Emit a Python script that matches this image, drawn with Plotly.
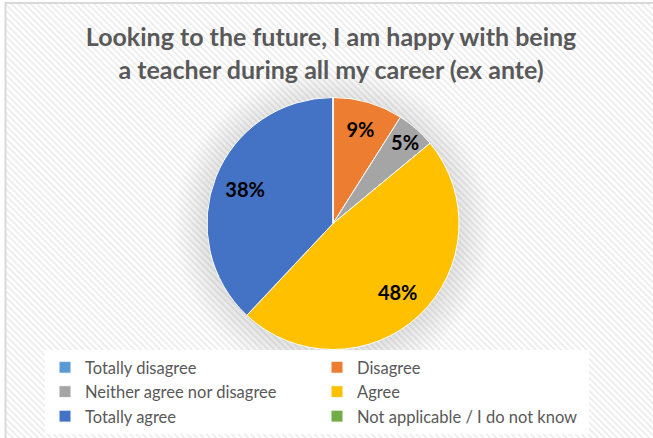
import base64
import plotly.graph_objects as go

# ---- data ----
categories = ["Totally disagree", "Disagree", "Neither agree nor disagree",
              "Agree", "Totally agree", "Not applicable / I do not know"]
shares = [0, 9, 5, 48, 38, 0]
colors = ["#5B9BD5", "#ED7D31", "#A5A5A5", "#FFC000", "#4472C4", "#70AD47"]
title_lines = ["Looking to the future, I am happy with being",
               "a teacher during all my career (ex ante)"]

labels_txt = [f"{v}%" if v > 0 else "" for v in shares]

W, H = 653, 438
pie_domain = dict(x=[207 / W, 459 / W], y=[1 - 350 / H, 1 - 97 / H])

svg = f"""<svg xmlns='http://www.w3.org/2000/svg' width='{W}' height='{H}' viewBox='0 0 {W} {H}' preserveAspectRatio='none'>
<defs>
<pattern id='p' width='4.5' height='4.5' patternUnits='userSpaceOnUse' patternTransform='rotate(-45)'>
<rect width='4.5' height='4.5' fill='#ffffff'/>
<rect width='1.8' height='4.5' fill='#ededed'/>
</pattern>
<radialGradient id='g' cx='0.5' cy='0.5' r='0.5'>
<stop offset='0.78' stop-color='#000' stop-opacity='0.11'/>
<stop offset='1' stop-color='#000' stop-opacity='0'/>
</radialGradient>
</defs>
<rect width='{W}' height='{H}' fill='#ffffff'/>
<rect x='5.5' y='3' width='700' height='500' fill='url(#p)' stroke='#d9d9d9' stroke-width='2'/>
<circle cx='333' cy='226' r='160' fill='url(#g)'/>
</svg>"""
bg_uri = "data:image/svg+xml;base64," + base64.b64encode(svg.encode()).decode()

fig = go.Figure()
# coloured slices
fig.add_trace(go.Pie(
    labels=categories,
    values=shares,
    textinfo="none",
    sort=False,
    direction="clockwise",
    rotation=0,
    marker=dict(colors=colors, line=dict(color="#ffffff", width=1)),
    domain=pie_domain,
    hoverinfo="label+percent",
))
# transparent ring carrying the percentage labels (placed mid-ring)
fig.add_trace(go.Pie(
    labels=categories,
    values=shares,
    text=labels_txt,
    textinfo="text",
    textposition="inside",
    insidetextorientation="horizontal",
    hole=0.5,
    sort=False,
    direction="clockwise",
    rotation=0,
    marker=dict(colors=["rgba(0,0,0,0)"] * len(shares), line=dict(width=0)),
    textfont=dict(family="Lato", size=20, color="#000000", weight="bold"),
    domain=pie_domain,
    showlegend=False,
    hoverinfo="skip",
))

fig.update_layout(
    width=W, height=H,
    margin=dict(l=0, r=0, t=0, b=0),
    paper_bgcolor="#ffffff",
    plot_bgcolor="rgba(0,0,0,0)",
    uniformtext=dict(mode="show", minsize=20),
    title=dict(
        text="<br>".join(title_lines),
        x=0.507, xanchor="center",
        y=1 - 46 / H, yanchor="top", yref="container",
        font=dict(family="Lato", size=25, color="#595959", weight="bold"),
    ),
    legend=dict(
        orientation="h",
        x=45 / W, xanchor="left",
        y=1 - 350 / H, yanchor="top",
        entrywidth=227,
        bgcolor="#ffffff",
        font=dict(family="Lato", size=16.5, color="#595959"),
        traceorder="normal",
    ),
    images=[dict(source=bg_uri, xref="paper", yref="paper", x=0, y=1,
                 sizex=1, sizey=1, sizing="stretch", layer="below",
                 xanchor="left", yanchor="top")],
)

fig.write_html("out.html", config={"displayModeBar": False},
               post_script="document.body.style.margin='0';")
